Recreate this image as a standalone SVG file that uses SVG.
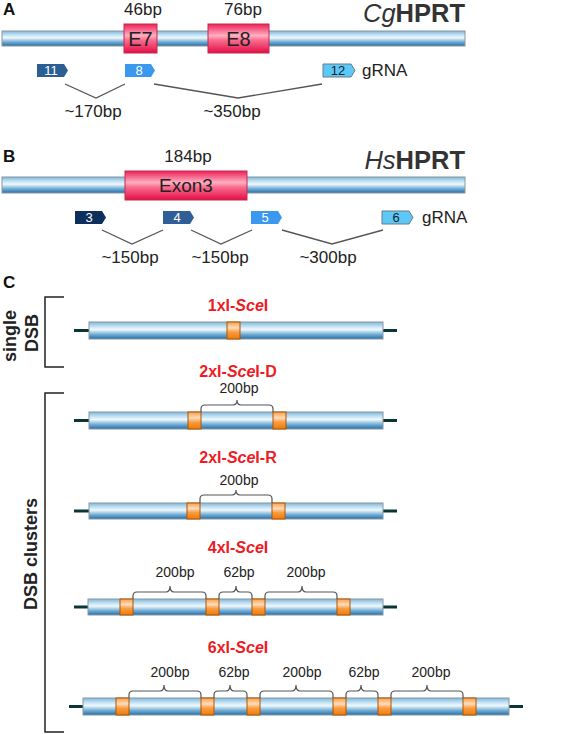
<svg xmlns="http://www.w3.org/2000/svg" width="563" height="734" viewBox="0 0 563 734">
<defs>
<linearGradient id="tube" x1="0" y1="0" x2="0" y2="1">
<stop offset="0" stop-color="#7db7dc"/>
<stop offset="0.3" stop-color="#cde7f5"/>
<stop offset="0.45" stop-color="#eef8fd"/>
<stop offset="0.75" stop-color="#6aa8d2"/>
<stop offset="1" stop-color="#276ea6"/>
</linearGradient>
<linearGradient id="exon" x1="0" y1="0" x2="0" y2="1">
<stop offset="0" stop-color="#ec2058"/>
<stop offset="0.4" stop-color="#ffb0c2"/>
<stop offset="0.55" stop-color="#fa6e90"/>
<stop offset="1" stop-color="#e20e46"/>
</linearGradient>
<linearGradient id="site" x1="0" y1="0" x2="0" y2="1">
<stop offset="0" stop-color="#f7a048"/>
<stop offset="0.35" stop-color="#ffdcbc"/>
<stop offset="0.6" stop-color="#fa9c3c"/>
<stop offset="1" stop-color="#ec7a0c"/>
</linearGradient>
</defs>
<style>
text{font-family:"Liberation Sans",Arial,sans-serif;fill:#222}
.panel{font-size:17px;font-weight:bold;fill:#111}
.bp{font-size:17px;text-anchor:middle}
.lab{font-size:17px}
.small{font-size:14px;text-anchor:middle}
.title{font-size:25.5px;text-anchor:end;fill:#333}
.red{font-size:16px;font-weight:bold;fill:#ee1c25;text-anchor:middle}
.side{font-size:18px;font-weight:bold;text-anchor:middle;fill:#222}
.tube{fill:url(#tube);stroke:#8a98a2;stroke-width:1}
.exon{fill:url(#exon);stroke:#c8284a;stroke-width:1}
.site{fill:url(#site);stroke:#b05400;stroke-width:1}
.whisk{stroke:#0c3636;stroke-width:3}
.conn{fill:none;stroke:#555;stroke-width:1.3}
.brace{fill:none;stroke:#555;stroke-width:1.2}
.bracket{fill:none;stroke:#222;stroke-width:1.5}
.g-num{font-size:13px;text-anchor:middle;fill:#fff}
.g-dark{font-size:13px;text-anchor:middle;fill:#222}
</style>

<!-- Panel A -->
<text class="panel" x="3" y="15">A</text>
<g id="cg-gene">
<rect class="tube" x="2" y="31" width="463" height="15"/>
<text class="title" x="465" y="22"><tspan font-style="italic">Cg</tspan><tspan font-weight="bold">HPRT</tspan></text>
</g>
<g id="E7">
<rect class="exon" x="124" y="24" width="33" height="29"/>
<text x="140.5" y="46" font-size="20" text-anchor="middle">E7</text>
<text class="bp" x="143" y="15">46bp</text>
</g>
<g id="E8">
<rect class="exon" x="208" y="24" width="61" height="29"/>
<text x="238.5" y="46" font-size="20" text-anchor="middle">E8</text>
<text class="bp" x="243" y="15">76bp</text>
</g>
<g id="gRNA11">
<path d="M37,64 H64 L68,70.5 L64,77 H37 Z" fill="#2b5f94"/>
<text class="g-num" x="51" y="75">11</text>
</g>
<g id="gRNA8">
<path d="M125,64 H151 L155,70.5 L151,77 H125 Z" fill="#3a98ee"/>
<text class="g-num" x="139" y="75">8</text>
</g>
<g id="gRNA12">
<path d="M323,64 H351 L355,70.5 L351,77 H323 Z" fill="#5cc8f8" stroke="#6a7a86" stroke-width="1"/>
<text class="g-dark" x="338" y="75">12</text>
</g>
<text class="lab" x="362" y="76">gRNA</text>

<!-- Panel B -->
<text class="panel" x="3" y="162">B</text>
<g id="hs-gene">
<rect class="tube" x="2" y="177" width="463" height="16"/>
<text class="title" x="465" y="169"><tspan font-style="italic">Hs</tspan><tspan font-weight="bold">HPRT</tspan></text>
</g>
<g id="Exon3">
<rect class="exon" x="125" y="171" width="122" height="29"/>
<text x="186" y="192" font-size="19" text-anchor="middle">Exon3</text>
<text class="bp" x="188" y="162">184bp</text>
</g>
<g id="gRNA3">
<path d="M75,211 H102 L106,217.5 L102,224 H75 Z" fill="#0c2f5e"/>
<text class="g-num" x="89" y="222">3</text>
</g>
<g id="gRNA4">
<path d="M163,211 H190 L194,217.5 L190,224 H163 Z" fill="#2f5f96"/>
<text class="g-num" x="177" y="222">4</text>
</g>
<g id="gRNA5">
<path d="M251,211 H278 L282,217.5 L278,224 H251 Z" fill="#3a98ee"/>
<text class="g-num" x="265" y="222">5</text>
</g>
<g id="gRNA6">
<path d="M382,211 H409 L413,217.5 L409,224 H382 Z" fill="#5cc8f8" stroke="#6a7a86" stroke-width="1"/>
<text class="g-dark" x="396" y="222">6</text>
</g>
<text class="lab" x="422" y="223">gRNA</text>

<g id="connectors">
<polyline class="conn" points="65,84 96,98 125,84"/>
<polyline class="conn" points="154,84 238,98 322,84"/>
<polyline class="conn" points="102,230 132,244 163,230"/>
<polyline class="conn" points="191,230 221,244 252,230"/>
<polyline class="conn" points="282,230 332,244 383,230"/>
</g>
<text class="bp" x="93" y="117">~170bp</text>
<text class="bp" x="232" y="117">~350bp</text>
<text class="bp" x="130" y="263">~150bp</text>
<text class="bp" x="220" y="263">~150bp</text>
<text class="bp" x="328" y="263">~300bp</text>

<!-- Panel C -->
<text class="panel" x="3" y="288">C</text>
<g id="single-DSB">
<path class="bracket" d="M64,297 H45 V367 H64"/>
<text class="side" transform="translate(16,336) rotate(-90)">single</text>
<text class="side" transform="translate(38,333) rotate(-90)">DSB</text>
</g>
<g id="DSB-clusters">
<path class="bracket" d="M64,393 H45 V732 H64"/>
<text class="side" transform="translate(37,554) rotate(-90)">DSB clusters</text>
</g>

<g id="c1">
<text class="red" x="238" y="311">1xI-<tspan font-style="italic">Sce</tspan>I</text>
<line class="whisk" x1="74" y1="330.5" x2="397" y2="330.5"/>
<rect class="tube" x="89" y="322" width="294" height="17"/>
<rect class="site" x="227" y="322" width="13" height="17"/>
</g>

<g id="c2D">
<text class="red" x="238" y="377">2xI-<tspan font-style="italic">Sce</tspan>I-D</text>
<line class="whisk" x1="74" y1="420.5" x2="397" y2="420.5"/>
<rect class="tube" x="89" y="412" width="294" height="17"/>
<rect class="site" x="188" y="412" width="13" height="17"/>
<rect class="site" x="273" y="412" width="13" height="17"/>
<path class="brace" d="M201,412 V409 Q201,405 205,405 H233 Q237,405 237,400 Q237,405 241,405 H269 Q273,405 273,409 V412"/>
<text class="small" x="239" y="393">200bp</text>
</g>

<g id="c2R">
<text class="red" x="238" y="463">2xI-<tspan font-style="italic">Sce</tspan>I-R</text>
<line class="whisk" x1="74" y1="511" x2="397" y2="511"/>
<rect class="tube" x="89" y="503" width="294" height="16"/>
<rect class="site" x="187" y="503" width="13" height="16"/>
<rect class="site" x="272" y="503" width="13" height="16"/>
<path class="brace" d="M200,503 V499 Q200,495 204,495 H232 Q236,495 236,490 Q236,495 240,495 H268 Q272,495 272,499 V503"/>
<text class="small" x="239" y="485">200bp</text>
</g>

<g id="c4">
<text class="red" x="238" y="553">4xI-<tspan font-style="italic">Sce</tspan>I</text>
<line class="whisk" x1="74" y1="607" x2="397" y2="607"/>
<rect class="tube" x="88" y="599" width="295" height="16"/>
<rect class="site" x="120" y="599" width="13" height="16"/>
<rect class="site" x="206" y="599" width="13" height="16"/>
<rect class="site" x="252" y="599" width="13" height="16"/>
<rect class="site" x="337" y="599" width="13" height="16"/>
<path class="brace" d="M133,599 V596 Q133,592 137,592 H166 Q170,592 170,586 Q170,592 174,592 H202 Q206,592 206,596 V599"/>
<path class="brace" d="M219,599 V596 Q219,592 223,592 H232 Q236,592 236,586 Q236,592 240,592 H248 Q252,592 252,596 V599"/>
<path class="brace" d="M265,599 V596 Q265,592 269,592 H298 Q302,592 302,586 Q302,592 306,592 H333 Q337,592 337,596 V599"/>
<text class="small" x="175" y="577">200bp</text>
<text class="small" x="239" y="577">62bp</text>
<text class="small" x="306" y="577">200bp</text>
</g>

<g id="c6">
<text class="red" x="238" y="653">6xI-<tspan font-style="italic">Sce</tspan>I</text>
<line class="whisk" x1="69" y1="706.5" x2="523" y2="706.5"/>
<rect class="tube" x="83" y="698" width="426" height="17"/>
<rect class="site" x="116" y="698" width="13" height="17"/>
<rect class="site" x="201" y="698" width="13" height="17"/>
<rect class="site" x="247" y="698" width="13" height="17"/>
<rect class="site" x="333" y="698" width="13" height="17"/>
<rect class="site" x="378" y="698" width="13" height="17"/>
<rect class="site" x="463" y="698" width="13" height="17"/>
<path class="brace" d="M129,698 V695 Q129,691 133,691 H160 Q164,691 164,685 Q164,691 168,691 H197 Q201,691 201,695 V698"/>
<path class="brace" d="M214,698 V695 Q214,691 218,691 H226 Q230,691 230,685 Q230,691 234,691 H243 Q247,691 247,695 V698"/>
<path class="brace" d="M260,698 V695 Q260,691 264,691 H292 Q296,691 296,685 Q296,691 300,691 H329 Q333,691 333,695 V698"/>
<path class="brace" d="M346,698 V695 Q346,691 350,691 H357 Q361,691 361,685 Q361,691 365,691 H374 Q378,691 378,695 V698"/>
<path class="brace" d="M391,698 V695 Q391,691 395,691 H423 Q427,691 427,685 Q427,691 431,691 H459 Q463,691 463,695 V698"/>
<text class="small" x="170" y="677">200bp</text>
<text class="small" x="234" y="677">62bp</text>
<text class="small" x="302" y="677">200bp</text>
<text class="small" x="364" y="677">62bp</text>
<text class="small" x="431" y="677">200bp</text>
</g>
</svg>
